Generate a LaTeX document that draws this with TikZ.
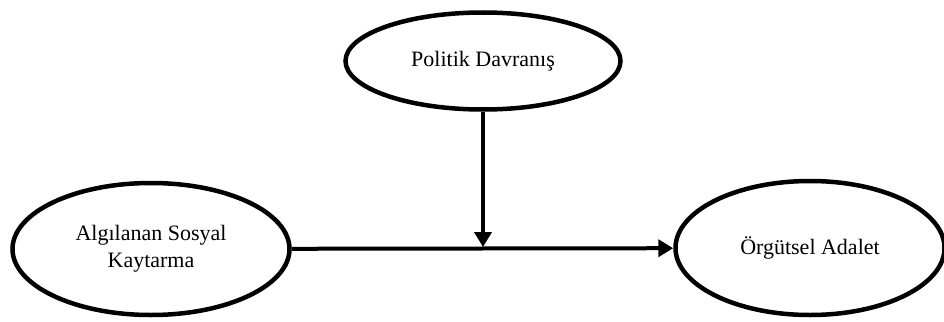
\documentclass[tikz,border=0pt]{standalone}
\usepackage{fontspec}
\setmainfont{Liberation Serif}
\usepackage{tikz}
\usetikzlibrary{positioning,arrows.meta,shapes.geometric}

\begin{document}
\begin{tikzpicture}[
  x=1pt, y=-1pt,
  font=\fontsize{22}{27}\selectfont,
  oval/.style={draw, ellipse, line width=4.5pt, align=center, inner sep=0pt},
  arr/.style={-{Triangle[length=15pt,width=17pt]}, line width=4pt}]
\useasboundingbox (0,0) rectangle (944,321);
\node[oval, minimum width=275pt, minimum height=97pt] (pd) at (483,61) {Politik Davranış};
\node[oval, minimum width=277pt, minimum height=132pt] (ask) at (151,249) {Algılanan Sosyal\\Kaytarma};
\node[oval, minimum width=269pt, minimum height=134pt] (oa) at (810,248) {Örgütsel Adalet};
\coordinate (mid) at (pd.south |- ask.east);
\draw[arr] (ask) -- (oa);
\draw[arr, shorten >=2pt] (pd) -- (mid);
\end{tikzpicture}
\end{document}
